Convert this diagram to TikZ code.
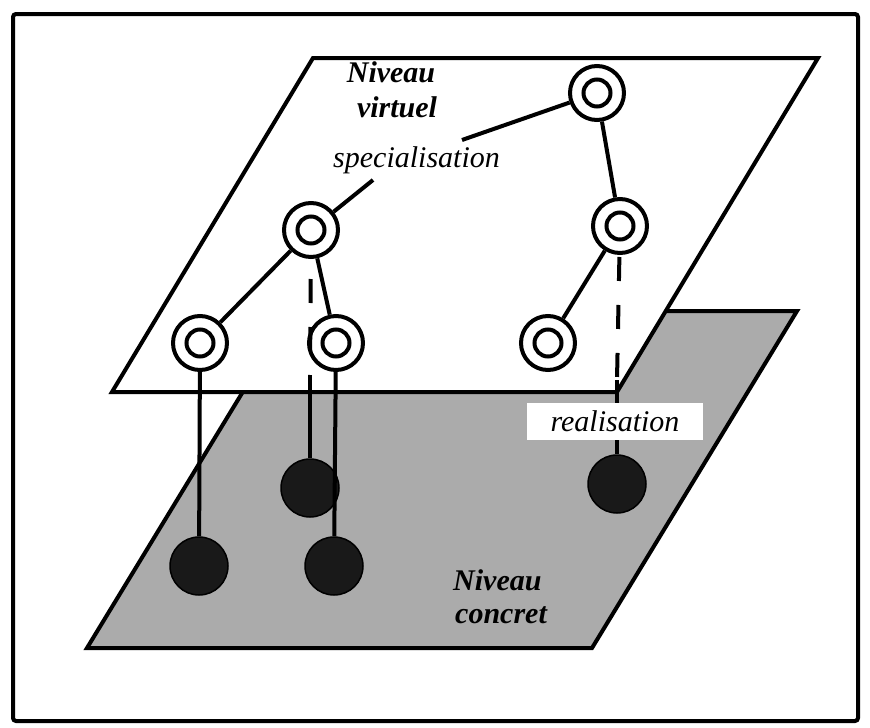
\documentclass[tikz,border=0pt]{standalone}
\usepackage{fontspec}
\setmainfont{Liberation Serif}
\usepackage{tikz}
\usetikzlibrary{positioning}

\begin{document}
\begin{tikzpicture}[x=1pt, y=-1pt,
    edge/.style={line width=4pt},
    virt/.style={circle, draw, fill=white, line width=4pt, minimum size=54pt, inner sep=0pt,
        path picture={\draw[line width=4pt] (path picture bounding box.center) circle (13.5pt);}},
    conc/.style={circle, draw, fill=black!90, line width=1.5pt, minimum size=58pt, inner sep=0pt},
    lbl/.style={font=\fontsize{30}{36}\selectfont\itshape, inner sep=0pt},
    title/.style={font=\fontsize{30}{36}\selectfont\bfseries\itshape, inner sep=0pt},
    realis/.style={line width=4pt, dash pattern=on 24pt off 24pt}]
    \useasboundingbox (0,0) rectangle (870,728);
    \draw[line width=4pt, rounded corners=3pt] (13,14) rectangle (858,721);

    % the two levels
    \draw[edge, fill=black!33] (292,311) -- (797,311) -- (592,648) -- (87,648) -- cycle;
    \draw[edge, fill=white] (313,58) -- (818,58) -- (617,392) -- (112,392) -- cycle;

    % texts
    \node[title, anchor=base] (nv1) at (391,82) {Niveau};
    \node[title, anchor=base] (nv2) at (397,117) {virtuel};
    \node[lbl, anchor=base west] (spec) at (333,167) {specialisation};
    \node[title, anchor=base west] (nc1) at (453,590) {Niveau};
    \node[title, anchor=base west] (nc2) at (455,623) {concret};

    % virtual objects
    \node[virt] (v0) at (597,93) {};
    \node[virt] (v1) at (311,230) {};
    \node[virt] (v4) at (620,226) {};
    \node[virt] (v2) at (200,343) {};
    \node[virt] (v3) at (336,343) {};
    \node[virt] (v5) at (548,343) {};

    % concrete objects
    \node[conc] (c1) at (310,488) {};
    \node[conc] (c2) at (199,566) {};
    \node[conc] (c3) at (334,566) {};
    \node[conc] (c4) at (617,484) {};

    \coordinate (sp1) at (373,180);
    \coordinate (sp2) at (462,140);
    \coordinate (r1) at (310,375);
    \coordinate (r2) at (617,380);

    % specialisation
    \draw[edge] (v1) -- (sp1);
    \draw[edge] (sp2) -- (v0);
    \draw[edge] (v0) -- (v4);
    \draw[edge] (v4) -- (v5);
    \draw[edge] (v1) -- (v2);
    \draw[edge] (v1) -- (v3);

    % realisation
    \draw[edge] (v2) -- (c2);
    \draw[edge] (v3) -- (c3);
    \draw[realis, dash phase=28pt] (v1) -- (r1);
    \draw[edge] (r1) -- (c1);
    \draw[realis, dash phase=46pt] (v4) -- (r2);
    \draw[edge] (r2) -- (c4);

    \node[lbl, fill=white, minimum width=176pt, minimum height=37pt] (real) at (615,421.5) {realisation};
\end{tikzpicture}
\end{document}
